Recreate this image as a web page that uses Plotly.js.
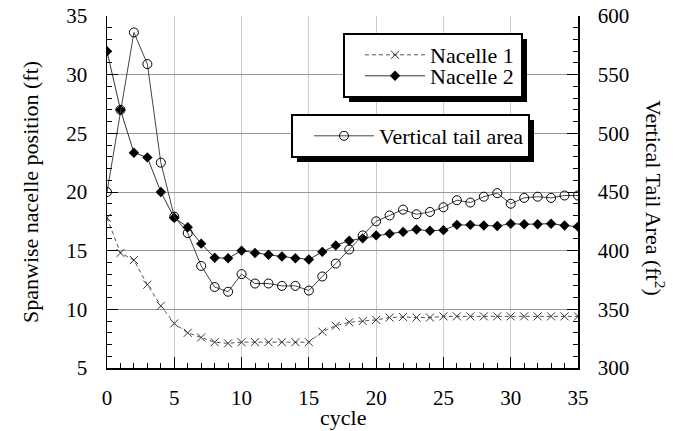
<!DOCTYPE html>
<html>
<head>
<meta charset="utf-8">
<script src="https://cdn.plot.ly/plotly-3.0.1.min.js"></script>
<style>
html,body{margin:0;padding:0;background:#fff;}
#chart{width:673px;height:431px;}
#chart text, #chart tspan{font-family:'Liberation Serif','Times New Roman',serif !important;}
</style>
</head>
<body>
<div id="chart"></div>
<script>
var cycles = [0,1,2,3,4,5,6,7,8,9,10,11,12,13,14,15,16,17,18,19,20,21,22,23,24,25,26,27,28,29,30,31,32,33,34,35];
var nacelle1 = [17.8,14.8,14.2,12.1,10.3,8.8,8.0,7.6,7.2,7.1,7.2,7.2,7.2,7.2,7.2,7.2,8.1,8.6,8.9,9.0,9.1,9.3,9.35,9.3,9.3,9.4,9.4,9.4,9.4,9.4,9.4,9.4,9.4,9.4,9.4,9.4];
var nacelle2 = [32.0,27.0,23.35,22.95,20.0,17.8,17.0,15.6,14.4,14.35,15.0,14.8,14.65,14.5,14.35,14.25,14.9,15.45,15.85,16.05,16.3,16.45,16.6,16.8,16.7,16.75,17.2,17.2,17.15,17.1,17.3,17.25,17.25,17.3,17.15,17.05];
var tailArea = [450,520,586,559,475,429,415,387,369,365,380,372,372,370,370,366,378,389,401,413,425,430,435,431,433,437,443,441,446,449,440,445,446,445,447,447];
var seriesNames = ["Nacelle 1","Nacelle 2","Vertical tail area"];
var xTitle = "cycle";
var yTitle = "Spanwise nacelle position (ft)";
var y2Title = "Vertical Tail Area (ft<sup>2</sup>)";

var FONT = "Liberation Serif";

var traces = [
  {x: cycles, y: nacelle1, name: seriesNames[0], type: 'scatter', mode: 'lines+markers',
   line: {color: '#555', width: 1, dash: '4px,3px'},
   marker: {symbol: 'x-thin-open', size: 8, color: '#333', line: {color: '#333', width: 1}},
   legend: 'legend'},
  {x: cycles, y: nacelle2, name: seriesNames[1], type: 'scatter', mode: 'lines+markers',
   line: {color: '#333', width: 1},
   marker: {symbol: 'diamond', size: 8, color: '#000', line: {color: '#000', width: 0}},
   legend: 'legend2'},
  {x: cycles, y: tailArea, name: seriesNames[2], type: 'scatter', mode: 'lines+markers', yaxis: 'y2',
   line: {color: '#444', width: 1},
   marker: {symbol: 'circle-open', size: 9, color: '#000', line: {color: '#000', width: 1}},
   legend: 'legend3'}
];

// plot area in px: left 107, right 578, top 16, bottom 368
function px(xp){ return (xp-107)/471; }
function py(yp){ return (368-yp)/352; }
var sh = 5;
function box(x0,y0,x1,y1){
  return [
    {type:'rect', xref:'paper', yref:'paper', x0:px(x0+sh), x1:px(x1+sh), y0:py(y1+sh), y1:py(y0+sh), fillcolor:'#000', line:{width:0}, layer:'above'},
    {type:'rect', xref:'paper', yref:'paper', x0:px(x0), x1:px(x1), y0:py(y1), y1:py(y0), fillcolor:'#fff', line:{color:'#000', width:2}, layer:'above'}
  ];
}
var shapes = box(344,34,522,97).concat(box(292,115,529,157));

var legBase = {bgcolor:'rgba(0,0,0,0)', borderwidth:0, font:{family:FONT, size:22, color:'#000'},
  xref:'paper', yref:'paper', xanchor:'left', yanchor:'middle', itemwidth:60, tracegroupgap:0};

var layout = {
  width: 673, height: 431,
  margin: {l:107, r:95, t:16, b:63},
  paper_bgcolor: '#fff', plot_bgcolor: '#fff',
  font: {family: FONT, size: 21, color: '#000'},
  showlegend: true,
  legend: Object.assign({}, legBase, {x: px(360), y: py(55)}),
  legend2: Object.assign({}, legBase, {x: px(360), y: py(76)}),
  legend3: Object.assign({}, legBase, {x: px(309), y: py(136)}),
  xaxis: {range:[0,35], tick0:0, dtick:5, ticks:'inside', ticklen:11, tickcolor:'#000', tickwidth:1,
    showline:true, linecolor:'#000', linewidth:1.5, showgrid:true, gridcolor:'#cccccc', gridwidth:1, zeroline:false,
    tickfont:{family:FONT, size:21, color:'#000'}, ticklabelstandoff:10,
    minor:{dtick:1, tick0:0, ticks:'inside', ticklen:5, tickcolor:'#000', showgrid:false}},
  yaxis: {range:[5,35], tick0:5, dtick:5, ticks:'inside', ticklen:11, tickcolor:'#000', tickwidth:1,
    showline:true, linecolor:'#000', linewidth:1.5, showgrid:true, gridcolor:'#999999', gridwidth:1, zeroline:false,
    tickfont:{family:FONT, size:21, color:'#000'}, ticklabelstandoff:14,
    minor:{dtick:1, tick0:5, ticks:'inside', ticklen:5, tickcolor:'#000', showgrid:false}},
  yaxis2: {overlaying:'y', side:'right', range:[300,600], tick0:300, dtick:50, ticks:'inside', ticklen:11, tickcolor:'#000', tickwidth:1,
    showline:true, linecolor:'#000', linewidth:1.5, showgrid:false, zeroline:false,
    tickfont:{family:FONT, size:21, color:'#000'}, ticklabelstandoff:14,
    minor:{dtick:10, tick0:300, ticks:'inside', ticklen:5, tickcolor:'#000', showgrid:false}},
  shapes: shapes,
  annotations: [
    {text: xTitle, xref:'paper', yref:'paper', x:0.5, y:py(417), xanchor:'center', yanchor:'middle', showarrow:false, font:{family:FONT, size:22, color:'#000'}},
    {text: yTitle, xref:'paper', yref:'paper', x:px(30), y:0.5, xanchor:'center', yanchor:'middle', textangle:-90, showarrow:false, font:{family:FONT, size:22, color:'#000'}},
    {text: y2Title, xref:'paper', yref:'paper', x:px(655), y:py(198), xanchor:'center', yanchor:'middle', textangle:90, showarrow:false, font:{family:FONT, size:22, color:'#000'}}
  ]
};

Plotly.newPlot('chart', traces, layout, {staticPlot:true, displayModeBar:false});
</script>
</body>
</html>
